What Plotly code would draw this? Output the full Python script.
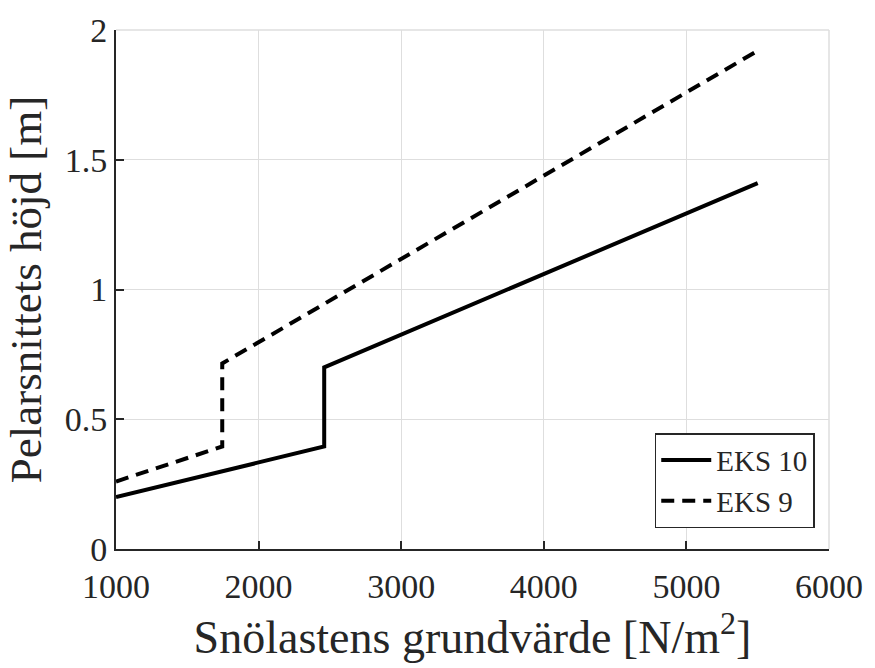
import plotly.graph_objects as go

# Data
eks10_x = [1000, 2460, 2460, 5500]
eks10_y = [0.20, 0.395, 0.70, 1.41]
eks9_x = [1000, 1745, 1745, 5500]
eks9_y = [0.26, 0.395, 0.715, 1.92]

x_ticks = [1000, 2000, 3000, 4000, 5000, 6000]
y_ticks = [0, 0.5, 1, 1.5, 2]
y_tick_labels = ["0", "0.5", "1", "1.5", "2"]

FONT = "Liberation Serif, Times New Roman, serif"
TXT = "#262626"

fig = go.Figure()
fig.add_trace(go.Scatter(x=eks10_x, y=eks10_y, mode="lines", name="EKS 10",
                         line=dict(color="black", width=4)))
fig.add_trace(go.Scatter(x=eks9_x, y=eks9_y, mode="lines", name="EKS 9",
                         line=dict(color="black", width=4, dash="13px,8px")))

fig.update_layout(
    width=875, height=668,
    margin=dict(l=116, r=39, t=20, b=119),
    paper_bgcolor="white", plot_bgcolor="white",
    font=dict(family=FONT, color=TXT, size=34),
    showlegend=True,
    legend=dict(x=0.98, y=0.04, xanchor="right", yanchor="bottom",
                bgcolor="white", bordercolor=TXT, borderwidth=1.5,
                font=dict(size=29, family=FONT, color=TXT),
                tracegroupgap=0, itemwidth=50),
    xaxis=dict(range=[1000, 6000], tickvals=x_ticks, ticktext=[str(v) for v in x_ticks],
               showgrid=True, gridcolor="#dedede", gridwidth=1,
               showline=True, linecolor=TXT, linewidth=2,
               ticks="inside", ticklen=8, tickcolor=TXT, tickwidth=1.5,
               ticklabelstandoff=6,
               zeroline=False,
               title=dict(text="Snölastens grundvärde [N/m<sup>2</sup>]",
                          font=dict(size=46, family=FONT, color=TXT), standoff=13)),
    yaxis=dict(range=[0, 2], tickvals=y_ticks, ticktext=y_tick_labels,
               showgrid=True, gridcolor="#dedede", gridwidth=1,
               showline=True, linecolor=TXT, linewidth=2,
               ticks="inside", ticklen=8, tickcolor=TXT, tickwidth=1.5,
               zeroline=False,
               title=dict(text="Pelarsnittets höjd [m]",
                          font=dict(size=45, family=FONT, color=TXT), standoff=9)),
)

# light box edges on top and right (as in reference)
fig.add_shape(type="line", xref="paper", yref="paper", x0=0, x1=1, y0=1, y1=1,
              line=dict(color="#dedede", width=1.5))
fig.add_shape(type="line", xref="paper", yref="paper", x0=1, x1=1, y0=0, y1=1,
              line=dict(color="#dedede", width=1.5))

fig.write_html("out.html")
